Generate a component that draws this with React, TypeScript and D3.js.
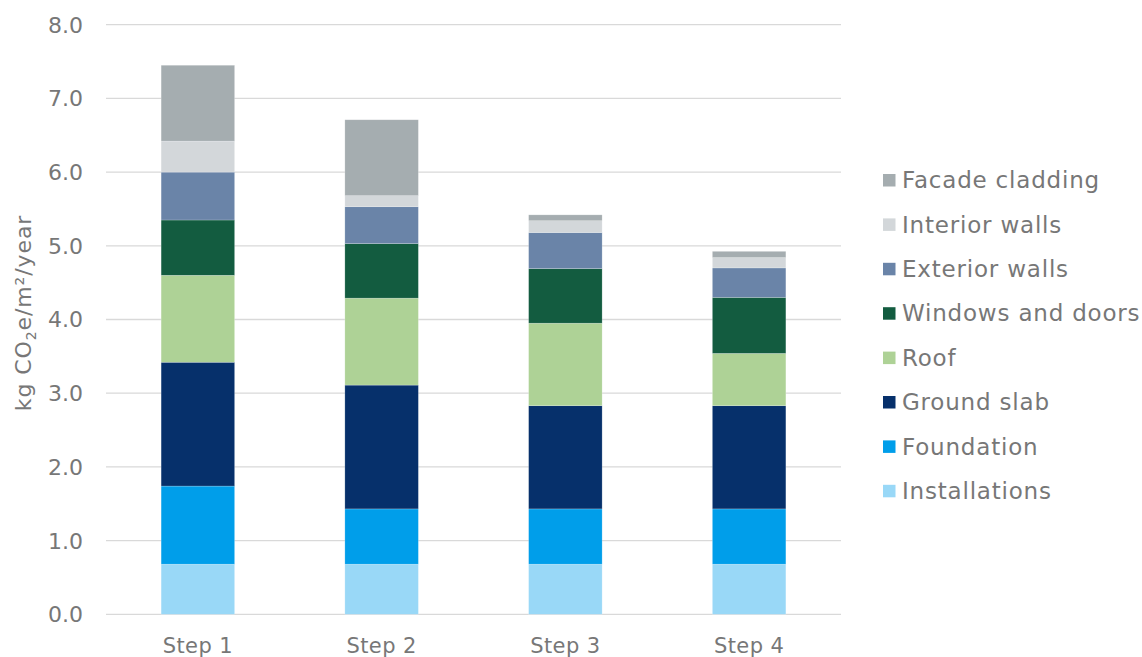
import React from "react";
import * as d3 from "d3";

const steps = ["Step 1", "Step 2", "Step 3", "Step 4"];
const components = [
  "Installations",
  "Foundation",
  "Ground slab",
  "Roof",
  "Windows and doors",
  "Exterior walls",
  "Interior walls",
  "Facade cladding",
];
const installations = [0.68, 0.68, 0.68, 0.68];
const foundation = [1.06, 0.75, 0.75, 0.75];
const groundSlab = [1.68, 1.68, 1.4, 1.4];
const roof = [1.18, 1.18, 1.12, 0.71];
const windowsAndDoors = [0.75, 0.74, 0.74, 0.76];
const exteriorWalls = [0.65, 0.5, 0.49, 0.4];
const interiorWalls = [0.42, 0.15, 0.16, 0.14];
const facadeCladding = [1.03, 1.03, 0.08, 0.085];
const yTicks = [0, 1, 2, 3, 4, 5, 6, 7, 8];

const seriesValues = [
  installations,
  foundation,
  groundSlab,
  roof,
  windowsAndDoors,
  exteriorWalls,
  interiorWalls,
  facadeCladding,
];
const colors = [
  "#99D8F7",
  "#009EEA",
  "#06306B",
  "#AED296",
  "#135C40",
  "#6A84A8",
  "#D3D7DA",
  "#A5ADB0",
];

const W = 1142;
const H = 657;
const FONT = "'DejaVu Sans', sans-serif";
const TEXT = "#777777";

export default function App() {
  const x = d3
    .scaleBand<string>()
    .domain(steps)
    .range([106, 841])
    .paddingInner(0.6)
    .paddingOuter(0.3);
  const y = d3.scaleLinear().domain([0, 8]).range([614.3, 24.7]);

  const rows = steps.map((s, i) => {
    const r: Record<string, number | string> = { step: s };
    components.forEach((c, k) => (r[c] = seriesValues[k][i]));
    return r;
  });
  const stacked = d3.stack<Record<string, number | string>>().keys(components)(rows as any);

  const legendTop = 180;
  const legendGap = 44.4;
  const legendOrder = [...components].reverse();

  return (
    <svg width={W} height={H} style={{ position: "absolute", left: 0, top: 0 }}>
      <rect width={W} height={H} fill="#fff" />
      {yTicks.map((t) => (
        <g key={t}>
          <line x1={106} x2={841} y1={y(t)} y2={y(t)} stroke="#D9D9D9" strokeWidth={1.3} />
          <text
            x={83}
            y={y(t)}
            dy="0.36em"
            textAnchor="end"
            fontFamily={FONT}
            fontSize={22}
            fill={TEXT}
          >
            {d3.format(".1f")(t)}
          </text>
        </g>
      ))}
      {stacked.map((layer, k) => (
        <g key={components[k]} fill={colors[k]}>
          {layer.map((d, i) => (
            <rect
              key={i}
              x={x(steps[i])}
              width={x.bandwidth()}
              y={y(d[1])}
              height={y(d[0]) - y(d[1])}
              stroke="#ffffff"
              strokeOpacity={0.35}
              strokeWidth={0.6}
            />
          ))}
        </g>
      ))}
      {steps.map((s) => (
        <text
          key={s}
          x={(x(s) as number) + x.bandwidth() / 2}
          y={645}
          dy="0.36em"
          textAnchor="middle"
          fontFamily={FONT}
          fontSize={21}
          letterSpacing={0.4}
          fill={TEXT}
        >
          {s}
        </text>
      ))}
      <text
        transform={`translate(31,${313}) rotate(-90)`}
        textAnchor="middle"
        fontFamily={FONT}
        fontSize={22}
        letterSpacing={0.9}
        fill={TEXT}
      >
        kg CO
        <tspan fontSize={14} dy={5}>
          2
        </tspan>
        <tspan dy={-5}>e/m²/year</tspan>
      </text>
      {legendOrder.map((c, i) => {
        const k = components.indexOf(c);
        const cy = legendTop + i * legendGap;
        return (
          <g key={c}>
            <rect x={883} y={cy - 6} width={12.5} height={12.5} fill={colors[k]} />
            <text
              x={902}
              y={cy}
              dy="0.36em"
              fontFamily={FONT}
              fontSize={23}
              letterSpacing={0.8}
              fill={TEXT}
            >
              {c}
            </text>
          </g>
        );
      })}
    </svg>
  );
}
